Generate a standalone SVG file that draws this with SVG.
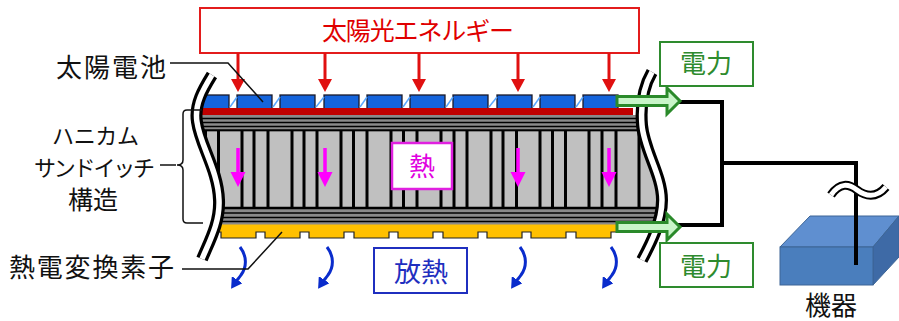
<svg xmlns="http://www.w3.org/2000/svg" width="899" height="321" viewBox="0 0 899 321">
  <style>
    text { font-family: "Noto Sans CJK JP", "Noto Sans", sans-serif; }
    .lbl { fill: #111111; font-size: 26px; }
    .kata { fill: #111111; font-size: 22px; }
    .kanji2 { fill: #111111; font-size: 25px; }
    .lead { fill: none; stroke: #111111; stroke-width: 1.5; }
    .cell { fill: #1464dc; stroke: #1a1a2a; stroke-width: 1.3; }
    .ic { stroke: #5aa8ff; stroke-width: 1.5; }
    .corel { stroke: #000000; stroke-width: 3; }
    .sheetl { stroke: #000000; stroke-width: 1.3; }
    .tegfill { fill: #ffc000; }
    .brkO { fill: none; stroke: #000000; stroke-width: 12; }
    .brkI { fill: none; stroke: #ffffff; stroke-width: 5.5; }
    .sun { stroke: #e01010; stroke-width: 3; marker-end: url(#headRed); }
    .heat { stroke: #ff00ff; stroke-width: 3.5; marker-end: url(#headMag); }
    .rad { fill: none; stroke: #0a2ccc; stroke-width: 3; marker-end: url(#headBlue); }
    .pwr { fill: #c8f5c8; stroke: #2a8a2a; stroke-width: 3; stroke-linejoin: miter; }
    .pwrbox { fill: #ffffff; stroke: #2e8b2e; stroke-width: 2; }
    .pwrtxt { fill: #2e8b2e; font-size: 26px; text-anchor: middle; }
    .wire { fill: none; stroke: #000000; stroke-width: 4; }
  </style>
  <defs>
    <marker id="headRed" markerUnits="userSpaceOnUse" markerWidth="14" markerHeight="14" refX="9" refY="7" orient="auto">
      <path d="M0,0 L13,7 L0,14 z" fill="#e01010"/>
    </marker>
    <marker id="headMag" markerUnits="userSpaceOnUse" markerWidth="16" markerHeight="16" refX="10" refY="7.5" orient="auto">
      <path d="M0,0 L15,7.5 L0,15 z" fill="#ff00ff"/>
    </marker>
    <marker id="headBlue" markerUnits="userSpaceOnUse" markerWidth="12" markerHeight="13" refX="4" refY="6.5" orient="auto">
      <path d="M0,0 L11,6.5 L0,13 z" fill="#0a2ccc"/>
    </marker>
    <!-- panel outline between the two break lines -->
    <clipPath id="panelClip">
      <path d="M212,75 C204,88 194,104 197,122 C200,145 218,170 219,200 C220,222 210,240 202,259 L642,260 C650,245 662,222 662,200 C662,175 644,150 642,125 C640,100 645,84 652,72 Z"/>
    </clipPath>
    <path id="breakL" d="M212,75 C204,88 194,104 197,122 C200,145 218,170 219,200 C220,222 210,240 202,259"/>
    <path id="breakR" d="M652,72 C645,84 640,100 642,125 C644,150 662,175 662,200 C662,222 650,245 642,260"/>
    <path id="pwrArrow" class="pwr" d="M0,-4.5 L50,-4.5 L50,-13 L63,0 L50,13 L50,4.5 L0,4.5 z"/>
    <path id="radArrow" class="rad" d="M0,0 C7,9 7,20 1,28 C-1,31 -3,33 -5,36"/>
  </defs>

  <!-- solar energy box -->
  <g id="solar-energy">
    <rect x="200" y="8" width="439" height="45" fill="#ffffff" stroke="#e31c1c" stroke-width="2"/>
    <text x="418" y="40" font-size="25" fill="#e00000" text-anchor="middle" textLength="192" lengthAdjust="spacing">太陽光エネルギー</text>
  </g>

  <!-- sandwich panel cross-section -->
  <g id="panel">
    <g clip-path="url(#panelClip)">
      <!-- solar cells -->
      <g id="solar-cells">
        <rect class="cell" x="194" y="95" width="35" height="14"/>
        <rect class="cell" x="237" y="95" width="35" height="14"/>
        <rect class="cell" x="280" y="95" width="35" height="14"/>
        <rect class="cell" x="324" y="95" width="35" height="14"/>
        <rect class="cell" x="367" y="95" width="35" height="14"/>
        <rect class="cell" x="410" y="95" width="35" height="14"/>
        <rect class="cell" x="453" y="95" width="35" height="14"/>
        <rect class="cell" x="497" y="95" width="35" height="14"/>
        <rect class="cell" x="540" y="95" width="35" height="14"/>
        <rect class="cell" x="583" y="95" width="35" height="14"/>
        <line class="ic" x1="230" y1="107" x2="237" y2="97"/>
        <line class="ic" x1="273" y1="107" x2="280" y2="97"/>
        <line class="ic" x1="316" y1="107" x2="324" y2="97"/>
        <line class="ic" x1="360" y1="107" x2="367" y2="97"/>
        <line class="ic" x1="403" y1="107" x2="410" y2="97"/>
        <line class="ic" x1="446" y1="107" x2="453" y2="97"/>
        <line class="ic" x1="489" y1="107" x2="497" y2="97"/>
        <line class="ic" x1="533" y1="107" x2="540" y2="97"/>
        <line class="ic" x1="576" y1="107" x2="583" y2="97"/>
      </g>
      <!-- substrate strip -->
      <rect x="190" y="108" width="443" height="8" fill="#c00000"/>
      <!-- top face sheet -->
      <rect x="190" y="115" width="480" height="16" fill="#8a8a8a"/>
      <line class="sheetl" x1="190" y1="118.5" x2="670" y2="118.5"/>
      <line class="sheetl" x1="190" y1="122.5" x2="670" y2="122.5"/>
      <line class="sheetl" x1="190" y1="126.5" x2="670" y2="126.5"/>
      <line x1="190" y1="130.5" x2="670" y2="130.5" stroke="#000" stroke-width="2.5"/>
      <!-- honeycomb core -->
      <rect x="190" y="131.5" width="480" height="76" fill="#c0c0c0"/>
      <g id="core-walls">
        <line class="corel" x1="193" y1="131" x2="193" y2="208"/>
        <line class="corel" x1="205.5" y1="131" x2="205.5" y2="208"/>
        <line class="corel" x1="218.5" y1="131" x2="218.5" y2="208"/>
        <line class="corel" x1="242" y1="131" x2="242" y2="208"/>
        <line class="corel" x1="254" y1="131" x2="254" y2="208"/>
        <line class="corel" x1="268" y1="131" x2="268" y2="208"/>
        <line class="corel" x1="292" y1="131" x2="292" y2="208"/>
        <line class="corel" x1="304" y1="131" x2="304" y2="208"/>
        <line class="corel" x1="317" y1="131" x2="317" y2="208"/>
        <line class="corel" x1="341" y1="131" x2="341" y2="208"/>
        <line class="corel" x1="353.5" y1="131" x2="353.5" y2="208"/>
        <line class="corel" x1="367" y1="131" x2="367" y2="208"/>
        <line class="corel" x1="391" y1="131" x2="391" y2="208"/>
        <line class="corel" x1="403.5" y1="131" x2="403.5" y2="208"/>
        <line class="corel" x1="417" y1="131" x2="417" y2="208"/>
        <line class="corel" x1="441" y1="131" x2="441" y2="208"/>
        <line class="corel" x1="454" y1="131" x2="454" y2="208"/>
        <line class="corel" x1="467" y1="131" x2="467" y2="208"/>
        <line class="corel" x1="491" y1="131" x2="491" y2="208"/>
        <line class="corel" x1="503" y1="131" x2="503" y2="208"/>
        <line class="corel" x1="516.5" y1="131" x2="516.5" y2="208"/>
        <line class="corel" x1="540" y1="131" x2="540" y2="208"/>
        <line class="corel" x1="552.5" y1="131" x2="552.5" y2="208"/>
        <line class="corel" x1="565.5" y1="131" x2="565.5" y2="208"/>
        <line class="corel" x1="589" y1="131" x2="589" y2="208"/>
        <line class="corel" x1="602" y1="131" x2="602" y2="208"/>
        <line class="corel" x1="616" y1="131" x2="616" y2="208"/>
        <line class="corel" x1="639" y1="131" x2="639" y2="208"/>
      </g>
      <!-- bottom face sheet -->
      <rect x="190" y="207" width="480" height="18" fill="#8a8a8a"/>
      <line x1="190" y1="208" x2="670" y2="208" stroke="#000" stroke-width="2.5"/>
      <line class="sheetl" x1="190" y1="213" x2="670" y2="213"/>
      <line class="sheetl" x1="190" y1="217.5" x2="670" y2="217.5"/>
      <line class="sheetl" x1="190" y1="221.5" x2="670" y2="221.5"/>
      <!-- thermoelectric elements -->
      <g id="teg-layer">
        <rect class="tegfill" x="190" y="224.5" width="430" height="7.5"/>
        <rect class="tegfill" x="221" y="231" width="35" height="7"/>
        <rect class="tegfill" x="265" y="231" width="35" height="7"/>
        <rect class="tegfill" x="309" y="231" width="35" height="7"/>
        <rect class="tegfill" x="354" y="231" width="35" height="7"/>
        <rect class="tegfill" x="398" y="231" width="35" height="7"/>
        <rect class="tegfill" x="443" y="231" width="35" height="7"/>
        <rect class="tegfill" x="487" y="231" width="35" height="7"/>
        <rect class="tegfill" x="531" y="231" width="35" height="7"/>
        <rect class="tegfill" x="576" y="231" width="35" height="7"/>
        <path d="M190,232 H221 V238 H256 V232 H265 V238 H300 V232 H309 V238 H344 V232 H354 V238 H389 V232 H398 V238 H433 V232 H443 V238 H478 V232 H487 V238 H522 V232 H531 V238 H566 V232 H576 V238 H611 V232 H620" fill="none" stroke="#222" stroke-width="1.2"/>
      </g>
    </g>
    <!-- break lines -->
    <use href="#breakL" class="brkO"/>
    <use href="#breakL" class="brkI"/>
    <use href="#breakR" class="brkO"/>
    <use href="#breakR" class="brkI"/>
  </g>

  <!-- wiring to the load -->
  <g id="wiring">
    <path class="wire" d="M676,102 H722 V225 H676"/>
    <path class="wire" d="M722,163 H856 V265"/>
  </g>

  <!-- load device -->
  <g id="device">
    <polygon points="780,247 810,216 899,216 873,247" fill="#5f8fd0" stroke="#3d6596" stroke-width="1"/>
    <polygon points="873,247 899,216 899,257 873,285" fill="#3e6aa6" stroke="#3d6596" stroke-width="1"/>
    <rect x="780" y="247" width="93" height="38" fill="#4a7ebd" stroke="#3d6596" stroke-width="1"/>
    <path d="M856,212 V265" stroke="#000" stroke-width="4"/>
    <text class="lbl" x="831" y="315" text-anchor="middle">機器</text>
  </g>
  <!-- line-break symbol on the cable -->
  <g id="cable-break">
    <path d="M831,195 C840,182 849,184 857,190 C865,196 876,199 886,187" fill="none" stroke="#000" stroke-width="9"/>
    <path d="M831,195 C840,182 849,184 857,190 C865,196 876,199 886,187" fill="none" stroke="#fff" stroke-width="5"/>
  </g>

  <!-- connectors: incoming light, heat flow, radiation, power out -->
  <g id="connectors">
    <line class="sun" x1="238" y1="53" x2="238" y2="88"/>
    <line class="sun" x1="325" y1="53" x2="325" y2="88"/>
    <line class="sun" x1="419" y1="53" x2="419" y2="88"/>
    <line class="sun" x1="518" y1="53" x2="518" y2="88"/>
    <line class="sun" x1="609" y1="53" x2="609" y2="88"/>

    <line class="heat" x1="238" y1="148" x2="238" y2="182"/>
    <line class="heat" x1="325" y1="148" x2="325" y2="182"/>
    <line class="heat" x1="518" y1="148" x2="518" y2="182"/>
    <line class="heat" x1="609" y1="148" x2="609" y2="182"/>

    <use href="#radArrow" x="240" y="247"/>
    <use href="#radArrow" x="327" y="247"/>
    <use href="#radArrow" x="520" y="247"/>
    <use href="#radArrow" x="611" y="247"/>

    <use href="#pwrArrow" x="617" y="101"/>
    <use href="#pwrArrow" x="617" y="227"/>
  </g>

  <!-- heat label -->
  <g id="heat-label">
    <rect x="392" y="143" width="60" height="46" fill="#ffffff" stroke="#e020e0" stroke-width="2.5"/>
    <text x="422" y="176" font-size="26" fill="#e000e0" text-anchor="middle">熱</text>
  </g>

  <!-- heat release label -->
  <g id="release-label">
    <rect x="374" y="248" width="93" height="45" fill="#ffffff" stroke="#1f2fbf" stroke-width="2"/>
    <text x="421" y="282" font-size="27" fill="#1f2fbf" text-anchor="middle">放熱</text>
  </g>

  <!-- power labels -->
  <g id="power-top">
    <rect class="pwrbox" x="660" y="42" width="93" height="44"/>
    <text class="pwrtxt" x="706" y="73">電力</text>
  </g>
  <g id="power-bottom">
    <rect class="pwrbox" x="660" y="243" width="93" height="44"/>
    <text class="pwrtxt" x="706" y="276">電力</text>
  </g>

  <!-- component labels -->
  <g id="label-solar-cell">
    <text class="lbl" x="56" y="77" textLength="110" lengthAdjust="spacing">太陽電池</text>
    <polyline class="lead" points="170,63 228,63 263,102"/>
  </g>
  <g id="label-honeycomb">
    <text class="kata" x="52" y="144" textLength="87" lengthAdjust="spacing">ハニカム</text>
    <text class="kata" x="34" y="176" textLength="121" lengthAdjust="spacing">サンドイッチ</text>
    <text class="kanji2" x="93" y="209" text-anchor="middle">構造</text>
    <line class="lead" x1="160" y1="165" x2="176" y2="165"/>
    <path class="lead" d="M202,110 H187 Q183,110 183,114 V160 Q183,165 177,165 Q183,165 183,170 V219 Q183,223 187,223 H203"/>
  </g>
  <g id="label-teg">
    <text class="lbl" x="9" y="277" font-size="27" textLength="165" lengthAdjust="spacing">熱電変換素子</text>
    <polyline class="lead" points="182,269 248,269 282,232"/>
  </g>
</svg>
